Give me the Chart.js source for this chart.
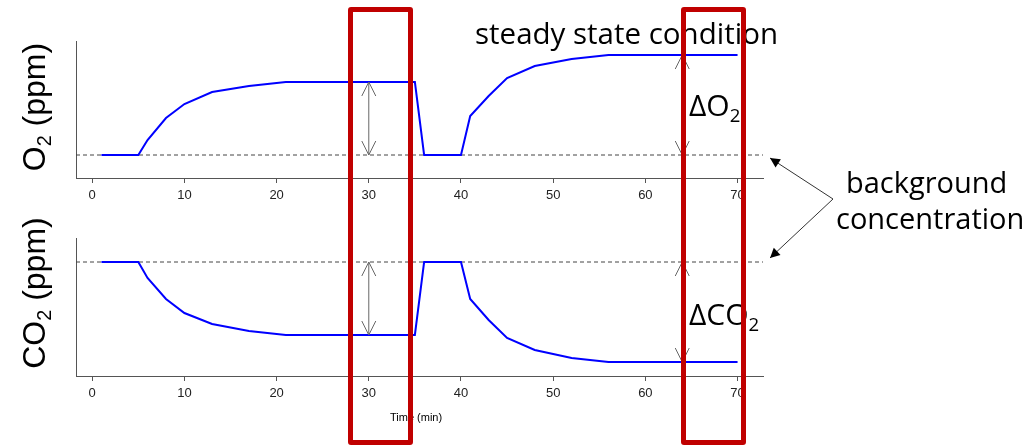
<!DOCTYPE html>
<html lang="en">
<head>
<meta charset="utf-8">
<title>O2 / CO2 steady state</title>
<script src="https://cdn.jsdelivr.net/npm/chart.js@4.4.0/dist/chart.umd.min.js"></script>
<style>
    body { margin: 0; background: #fff; }
    #wrap { position: relative; width: 1033px; height: 447px; overflow: hidden; background: #fff; }
    #wrap canvas { position: absolute; left: 0; top: 0; }
    .lab { position: absolute; white-space: nowrap; color: #000; line-height: 1; z-index: 5; }
    .cal { font-family: "Open Sans", "Noto Sans", sans-serif; }
    .ylab { font-family: "Liberation Sans", Arial, sans-serif; font-size: 32px; width: 200px; text-align: center;
            transform: rotate(-90deg); transform-origin: 50% 50%; }
    .lab sub { font-size: 62%; vertical-align: -0.3em; line-height: 0; }
    .box { position: absolute; border: 5px solid #c00000; border-radius: 3px; box-sizing: border-box; z-index: 9; }
</style>
</head>
<body>
<div id="wrap">
    <canvas id="o2Chart" width="1033" height="447"></canvas>
    <canvas id="co2Chart" width="1033" height="447"></canvas>

    <div class="lab ylab" style="left:-66px; top:91px;">O<sub>2</sub> (ppm)</div>
    <div class="lab ylab" style="left:-66px; top:277px;">CO<sub>2</sub> (ppm)</div>
    <div class="lab cal" style="left:475px; top:18px; font-size:29.5px;">steady state condition</div>
    <div class="lab cal" style="left:689px; top:90px; font-size:30px;">&Delta;O<sub>2</sub></div>
    <div class="lab cal" style="left:689px; top:299px; font-size:30px;">&Delta;CO<sub>2</sub></div>
    <div class="lab cal" style="left:846px; top:167px; font-size:29px;">background</div>
    <div class="lab cal" style="left:836px; top:203px; font-size:29px;">concentration</div>
    <div class="lab" style="left:390px; top:412px; font-size:11px; font-family:'Liberation Sans', Arial, sans-serif;">Time (min)</div>

    <div class="box" style="left:348px; top:7px; width:65px; height:438px;"></div>
    <div class="box" style="left:681px; top:7px; width:65px; height:438px;"></div>
</div>

<script>
    // time in minutes
    const time = [1, 5, 6, 8, 10, 13, 17, 21, 35, 36, 40, 41, 43, 45, 48, 52, 56, 70];
    // ppm relative to background concentration
    const o2 = [0, 0, 15, 37, 51, 63, 69, 73, 73, 0, 0, 39, 59, 77, 89, 96, 100, 100];
    const co2 = [0, 0, -16, -37, -51, -62, -69, -73, -73, 0, 0, -37, -58, -76, -88, -96, -100, -100];
    const background = 0;
    const xTicks = [0, 10, 20, 30, 40, 50, 60, 70];
    const arrowTimes = [30, 64];

    // R style 4% padding round the data range
    const xMin = -1.76, xMax = 72.76;

    // value of a series at time t (linear between points)
    function valueAt(series, t) {
        for (let i = 1; i < time.length; i++) {
            if (t <= time[i]) {
                const f = (t - time[i - 1]) / (time[i] - time[i - 1]);
                return series[i - 1] + f * (series[i] - series[i - 1]);
            }
        }
        return series[series.length - 1];
    }

    function arrowHead(ctx, x, y, dir, filled) {
        const len = 14, half = 7;
        ctx.beginPath();
        ctx.moveTo(x - half * dir.px - len * dir.x, y - half * dir.py - len * dir.y);
        ctx.lineTo(x, y);
        ctx.lineTo(x + half * dir.px - len * dir.x, y + half * dir.py - len * dir.y);
        if (filled) { ctx.closePath(); ctx.fill(); } else { ctx.stroke(); }
    }

    function arrow(ctx, x1, y1, x2, y2, both, filled) {
        const d = Math.hypot(x2 - x1, y2 - y1);
        const ux = (x2 - x1) / d, uy = (y2 - y1) / d;
        ctx.beginPath();
        ctx.moveTo(x1, y1);
        ctx.lineTo(x2, y2);
        ctx.stroke();
        const sc = filled ? 0.7 : 1;
        arrowHead(ctx, x2, y2, { x: ux * sc, y: uy * sc, px: -uy * sc, py: ux * sc }, filled);
        if (both) arrowHead(ctx, x1, y1, { x: -ux, y: -uy, px: uy, py: -ux }, filled);
    }

    // double arrows between background and steady state level
    const deltaArrows = {
        id: 'deltaArrows',
        afterDatasetsDraw(chart, args, opts) {
            const ctx = chart.ctx, xs = chart.scales.x, ys = chart.scales.y;
            ctx.save();
            ctx.strokeStyle = '#666';
            ctx.lineWidth = 1;
            arrowTimes.forEach(t => {
                const px = xs.getPixelForValue(t);
                arrow(ctx, px, ys.getPixelForValue(background), px, ys.getPixelForValue(valueAt(opts.series, t)), true, false);
            });
            if (opts.pointers) {
                // arrows from the "background concentration" label to both dashed lines
                const other = Chart.getChart('o2Chart');
                const ox = chart.chartArea.right + 7;
                const sx = ox + 63, sy = 199;
                ctx.strokeStyle = '#333';
                ctx.fillStyle = '#000';
                arrow(ctx, sx, sy, ox, other.scales.y.getPixelForValue(background) + 3, false, true);
                arrow(ctx, sx, sy, ox, ys.getPixelForValue(background) - 4, false, true);
            }
            ctx.restore();
        }
    };

    function makeChart(id, series, yMin, yMax, pad, pointers) {
        return new Chart(document.getElementById(id), {
            type: 'line',
            data: {
                datasets: [
                    {
                        data: time.map((t, i) => ({ x: t, y: series[i] })),
                        borderColor: '#0000ff',
                        borderWidth: 2,
                        pointRadius: 0,
                        tension: 0
                    },
                    {
                        data: [{ x: xMin, y: background }, { x: xMax, y: background }],
                        borderColor: '#444',
                        borderWidth: 1,
                        borderDash: [4, 3],
                        pointRadius: 0
                    }
                ]
            },
            options: {
                responsive: false,
                animation: false,
                events: [],
                layout: { padding: pad },
                plugins: {
                    legend: { display: false },
                    tooltip: { enabled: false },
                    deltaArrows: { series: series, pointers: pointers }
                },
                scales: {
                    x: {
                        type: 'linear',
                        min: xMin,
                        max: xMax,
                        afterBuildTicks: s => { s.ticks = xTicks.map(v => ({ value: v })); },
                        afterFit: s => { s.height = 30; },
                        grid: { drawOnChartArea: false, drawTicks: true, tickLength: 5, color: '#555' },
                        border: { color: '#555', width: 1 },
                        ticks: {
                            padding: 5,
                            color: '#222',
                            maxRotation: 0,
                            font: { family: "'Liberation Sans', Arial, sans-serif", size: 13 }
                        }
                    },
                    y: {
                        min: yMin,
                        max: yMax,
                        afterFit: s => { s.width = 0; },
                        grid: { display: false },
                        border: { display: true, color: '#555', width: 1 },
                        ticks: { display: false }
                    }
                }
            },
            plugins: [deltaArrows]
        });
    }

    makeChart('o2Chart', o2, -23, 114, { left: 76, right: 270, top: 41, bottom: 239 }, false);
    makeChart('co2Chart', co2, -114, 24, { left: 76, right: 270, top: 238, bottom: 41 }, true);
</script>
</body>
</html>
